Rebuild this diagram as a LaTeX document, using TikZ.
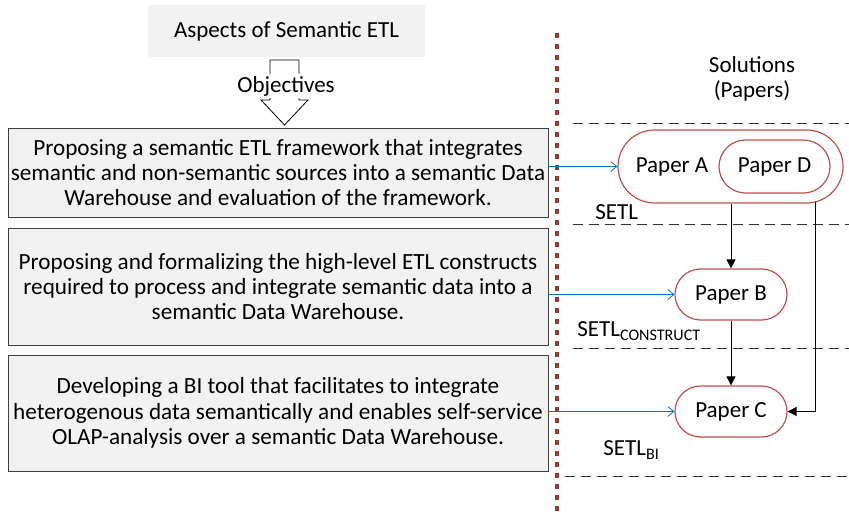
\documentclass[tikz,border=0pt]{standalone}
\usepackage{fontspec}
\setmainfont{Carlito}
\usetikzlibrary{arrows.meta,shapes.misc,positioning}
\definecolor{boxgray}{HTML}{F2F2F2}
\definecolor{paperred}{HTML}{C0504D}
\definecolor{linkblue}{HTML}{0070C0}
\definecolor{dividerred}{HTML}{943B36}

\begin{document}
\begin{tikzpicture}[x=0.5pt,y=-0.5pt,
  font=\fontsize{11.5}{12.7}\selectfont,
  aim/.style={draw=black!75,fill=boxgray,minimum width=270pt,align=center,inner sep=0pt,
    font=\fontsize{11.6}{12.7}\selectfont},
  paper/.style={draw=paperred,line width=0.6pt,rounded rectangle,minimum width=56pt,minimum height=25.5pt,inner sep=0pt},
  layer/.style={draw=black!80,dash pattern=on 5pt off 3pt},
  link/.style={draw=linkblue,line width=0.4pt,-{Straight Barb[length=3pt,width=5pt]}},
  flow/.style={draw,-{Triangle[length=4.5pt,width=4.5pt]}}]
\useasboundingbox (0,0) rectangle (849,517);
% aspects and objectives
\node[fill=boxgray,minimum width=138.5pt,minimum height=26pt] (aspects) at (286.5,31) {Aspects of Semantic ETL};
\draw[fill=white] (270,60) -- (299,60) -- (299,100) -- (308,100) -- (284.5,125)
  -- (261,100) -- (270,100) -- cycle;
\node[fill=white,inner sep=1pt] (objectives) at (286,86) {Objectives};
\node[aim,minimum height=44.5pt] (obj1) at (278,172.5) {Proposing a semantic ETL framework that integrates\\
  semantic and non-semantic sources into a semantic Data\\
  Warehouse and evaluation of the framework.};
\node[aim,minimum height=58.5pt] (obj2) at (278,286.5) {Proposing and formalizing the high-level ETL constructs\\
  required to process and integrate semantic data into a\\
  semantic Data Warehouse.};
\node[aim,minimum height=58pt] (obj3) at (278,413) {Developing a BI tool that facilitates to integrate\\
  heterogenous data semantically and enables self-service\\
  OLAP-analysis over a semantic Data Warehouse.};
% divider
\draw[dividerred,line width=2pt,dash pattern=on 2.5pt off 3pt] (557,33) -- (557,517);
% solutions
\node[align=center] (solutions) at (752,79) {Solutions\\(Papers)};
\draw[layer] (573,123) -- (849,123);
\draw[layer] (573,224) -- (849,224);
\draw[layer] (573,348) -- (849,348);
\draw[layer] (565,476) -- (849,476);
\node[paper,minimum width=112.5pt,minimum height=36.5pt] (pa) at (730.5,166.5) {};
\node[paper,minimum width=55.5pt,minimum height=26.5pt] (pd) at (774.5,166.5) {Paper D};
\node (patext) at (672,167) {Paper A};
\node[paper] (pb) at (731,294.5) {Paper B};
\node[paper] (pc) at (731,411.5) {Paper C};
\node[anchor=west,inner sep=0pt] (setl) at (595,212) {SETL};
\node[anchor=west,inner sep=0pt] (setlc) at (577,331) {SETL\textsubscript{CONSTRUCT}};
\node[anchor=west,inner sep=0pt] (setlbi) at (603,450) {SETL\textsubscript{BI}};
% connectors
\draw[link] (obj1.east |- pa.west) -- (pa.west);
\draw[link] (obj2.east |- pb.west) -- (pb.west);
\draw[link] (obj3.east |- pc.west) -- (pc.west);
\coordinate (dfoot) at (815,202);
\draw[flow] (pa.south -| pb.north) -- (pb.north);
\draw[flow] (pb.south) -- (pc.north);
\draw[flow] (dfoot) |- (pc.east);
\end{tikzpicture}
\end{document}
